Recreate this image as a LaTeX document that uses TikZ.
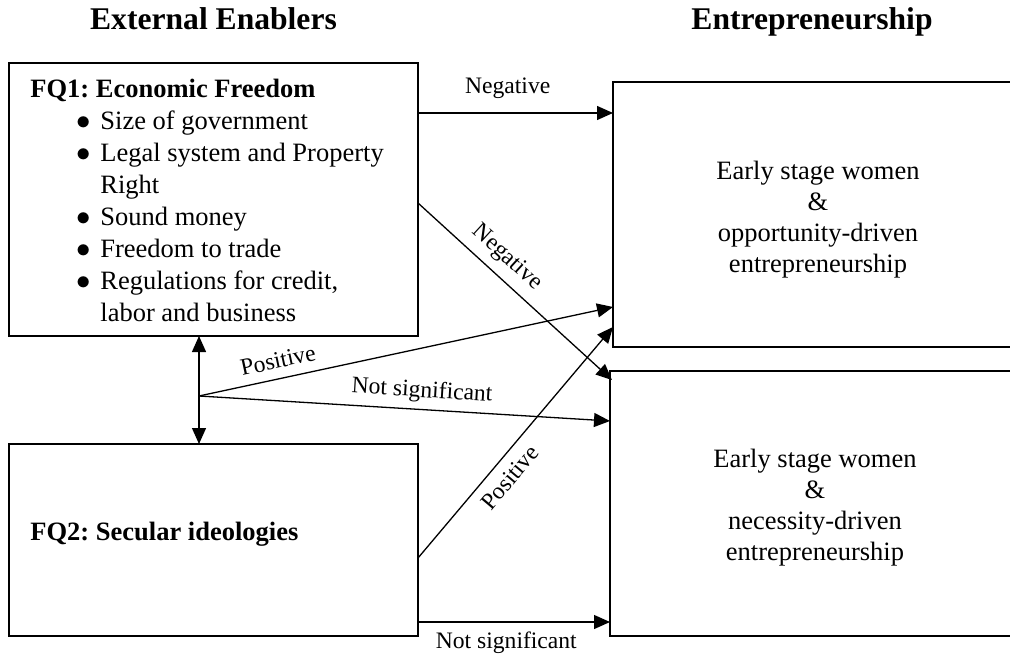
\documentclass[tikz,border=0pt]{standalone}
\usepackage{fontspec}
\setmainfont{Liberation Serif}
\usetikzlibrary{arrows.meta,positioning,calc}
\frenchspacing

% bullet line and its continuation inside the FQ1 box
\newcommand{\fqitem}[1]{\hspace*{23pt}\makebox[12pt][l]{$\bullet$}#1}
\newcommand{\fqcont}[1]{\hspace*{35pt}#1}

\begin{document}
\begin{tikzpicture}[
    x=0.5pt, y=-0.5pt,
    >={Triangle[length=8pt, width=7pt]},
    box/.style={rectangle, draw=black, line width=0.75pt, inner sep=0pt, outer sep=0pt},
    body/.style={font=\fontsize{13.25}{16}\selectfont, inner sep=0pt},
    outcome/.style={font=\fontsize{13.25}{15.4}\selectfont, align=center, inner sep=0pt},
    head/.style={font=\fontsize{15.8}{19}\selectfont\bfseries, inner sep=0pt, anchor=base},
    lbl/.style={font=\fontsize{11.8}{14}\selectfont},
    arr/.style={->, line width=0.65pt},
    dblarr/.style={<->, line width=0.65pt}
]
\useasboundingbox (0,0) rectangle (1010,657);

% column headings
\node[head] (enablers) at (213.5,30) {External Enablers};
\node[head] (entre) at (812,30) {Entrepreneurship};

% external enablers
\node[box, minimum width=204.5pt, minimum height=136.5pt] (fq1) at (213.5,199.5) {};
\node[body, align=left, anchor=north west] (fq1text) at (30,79) {%
    \textbf{FQ1: Economic Freedom}\\
    \fqitem{Size of government}\\
    \fqitem{Legal system and Property}\\
    \fqcont{Right}\\
    \fqitem{Sound money}\\
    \fqitem{Freedom to trade}\\
    \fqitem{Regulations for credit,}\\
    \fqcont{labor and business}};
\node[box, minimum width=204.5pt, minimum height=96pt] (fq2) at (213.5,540) {};
\node[body, anchor=base west] (fq2text) at (30,540) {\textbf{FQ2: Secular ideologies}};

% entrepreneurship outcomes
\node[box, minimum width=205pt, minimum height=132.5pt] (opp) at (818,214.5) {};
\node[outcome] (opptext) at ([yshift=-2.5pt]opp.center)
    {Early stage women\\ \&\\ opportunity-driven\\ entrepreneurship};
\node[box, minimum width=205pt, minimum height=132.5pt] (nec) at (815,503.5) {};
\node[outcome] (nectext) at ([yshift=-2pt]nec.center)
    {Early stage women\\ \&\\ necessity-driven\\ entrepreneurship};

% link between the two enablers
\coordinate (hub) at (199,396);
\draw[dblarr] (hub |- fq1.south) -- (hub |- fq2.north);

% effects
\draw[arr] ([yshift=-25pt]fq1.north east) coordinate (negstart) -- (negstart -| opp.west)
    node[lbl, pos=0.46, above=3.5pt] (negtop) {Negative};
\draw[arr] ([yshift=-70pt]fq1.north east) -- ([shift={(1pt,-4.5pt)}]nec.north west)
    node[lbl, pos=0.39, sloped, above=1pt] (negdiag) {Negative};
\draw[arr] (hub) -- ([yshift=20pt]opp.south west)
    node[lbl, pos=0.2, sloped, above=1.5pt] (posup) {Positive};
\draw[arr] (hub) -- ([yshift=-25pt]nec.north west)
    node[lbl, pos=0.54, sloped, above] (nsmid) {Not significant};
\draw[arr] ([yshift=-57pt]fq2.north east) -- ([yshift=10pt]opp.south west)
    node[lbl, pos=0.40, sloped, below=1.5pt] (posdiag) {Positive};
\draw[arr] ([yshift=7pt]fq2.south east) coordinate (nsstart) -- (nsstart -| nec.west)
    node[lbl, pos=0.46, below=1.5pt] (nsbot) {Not significant};
\end{tikzpicture}
\end{document}
